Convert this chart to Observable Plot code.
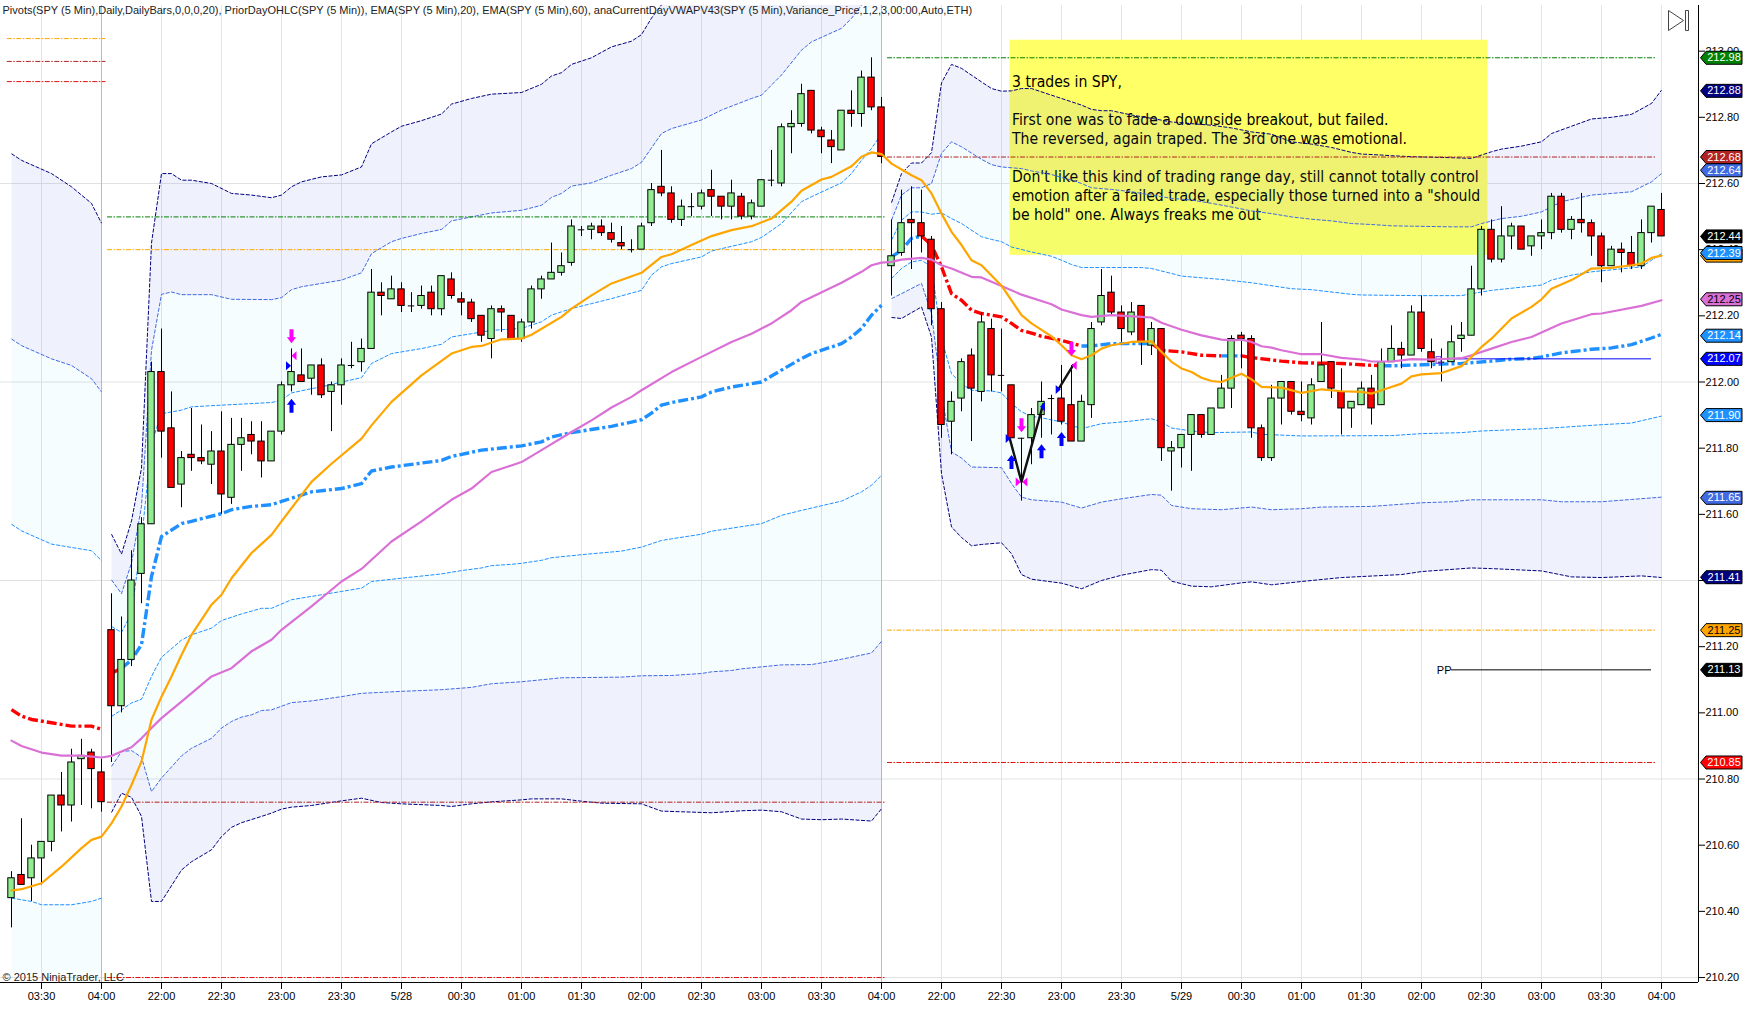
<!DOCTYPE html>
<html><head><meta charset="utf-8">
<script src="https://cdn.jsdelivr.net/npm/d3@7"></script>
<script src="https://cdn.jsdelivr.net/npm/@observablehq/plot@0.6"></script>
<style>html,body{margin:0;padding:0;background:#fff}svg{display:block}</style>
</head><body><div id="chart"></div>
<script>
// ---- candles, bar number 0..165
const opens=[210.44,210.51,210.50,210.56,210.61,210.75,210.72,210.86,210.88,210.82,
211.25,211.02,211.16,211.42,211.57,212.03,211.86,211.69,211.78,211.77,
211.75,211.79,211.65,211.81,211.84,211.82,211.76,211.85,211.99,212.02,
212.01,212.05,211.97,211.99,212.05,212.06,212.10,212.27,212.25,212.28,
212.23,212.23,212.27,212.22,212.31,212.25,212.24,212.20,212.13,212.22,
212.20,212.13,212.18,212.28,212.31,212.33,212.36,212.46,212.46,212.47,
212.45,212.42,212.40,212.40,212.48,212.59,212.57,212.49,212.53,212.53,
212.58,212.56,212.53,212.56,212.50,212.53,212.61,212.60,212.77,212.78,
212.88,212.76,212.73,212.70,212.82,212.81,212.92,212.83,212.35,212.39,
212.49,212.48,212.43,212.22,211.88,211.95,212.08,211.97,212.16,212.02,
211.99,211.83,211.83,211.90,211.95,211.95,211.93,211.82,211.93,212.18,
212.27,212.21,212.15,212.23,212.11,212.16,211.79,211.80,211.84,211.90,
211.84,211.92,211.98,212.14,212.13,211.86,211.77,211.95,212.00,211.91,
211.89,212.00,212.06,211.97,211.92,211.93,211.98,211.93,212.06,212.10,
212.08,212.21,212.09,212.06,212.06,212.13,212.14,212.28,212.46,212.37,
212.44,212.47,212.41,212.44,212.45,212.56,212.46,212.49,212.48,212.44,
212.35,212.40,212.39,212.35,212.45,212.52];
const closes=[210.50,210.48,210.56,210.61,210.75,210.72,210.85,210.87,210.83,210.73,
211.02,211.16,211.40,211.57,212.03,211.85,211.68,211.77,211.77,211.76,
211.79,211.66,211.81,211.83,211.82,211.76,211.85,211.99,212.03,212.00,
212.05,211.96,211.99,212.05,212.05,212.10,212.27,212.26,212.28,212.23,
212.23,212.26,212.22,212.32,212.26,212.24,212.19,212.14,212.22,212.21,
212.13,212.18,212.28,212.31,212.33,212.35,212.47,212.46,212.47,212.45,
212.43,212.41,212.40,212.47,212.58,212.57,212.49,212.53,212.53,212.57,
212.56,212.53,212.57,212.50,212.54,212.61,212.61,212.77,212.78,212.87,
212.76,212.74,212.71,212.82,212.81,212.92,212.83,212.68,212.38,212.48,
212.48,212.44,212.22,211.87,211.94,212.06,211.98,212.18,212.02,212.02,
211.83,211.83,211.90,211.94,211.95,211.88,211.82,211.94,212.16,212.26,
212.21,212.16,212.21,212.12,212.16,211.80,211.80,211.84,211.90,211.84,
211.92,211.98,212.13,212.13,211.86,211.77,211.95,212.00,211.91,211.90,
211.99,212.05,211.98,211.92,211.94,211.98,211.92,212.06,212.10,212.08,
212.21,212.10,212.06,212.06,212.12,212.14,212.28,212.46,212.37,212.44,
212.47,212.40,212.44,212.45,212.56,212.46,212.49,212.48,212.44,212.35,
212.40,212.39,212.35,212.45,212.53,212.44];
const highs=[210.52,210.68,210.60,210.61,210.75,210.82,210.89,210.92,210.89,210.86,
211.36,211.29,211.49,211.59,212.06,212.16,211.97,211.79,211.92,211.87,
211.85,211.91,211.89,211.89,211.88,211.88,211.85,212.00,212.10,212.10,
212.05,212.07,212.00,212.07,212.12,212.13,212.34,212.30,212.32,212.30,
212.27,212.29,212.29,212.32,212.33,212.27,212.25,212.20,212.23,212.23,
212.20,212.19,212.29,212.32,212.42,212.39,212.49,212.47,212.48,212.49,
212.48,212.47,212.43,212.48,212.60,212.70,212.59,212.55,212.57,212.58,
212.64,212.56,212.61,212.57,212.55,212.61,212.70,212.78,212.82,212.90,
212.88,212.77,212.76,212.82,212.88,212.94,212.98,212.86,212.49,212.58,
212.59,212.58,212.44,212.24,211.97,212.07,212.10,212.21,212.19,212.16,
211.99,211.83,211.92,212.00,211.96,212.05,212.05,211.96,212.18,212.34,
212.32,212.23,212.24,212.23,212.18,212.16,211.82,211.84,211.90,211.90,
211.92,212.02,212.14,212.15,212.14,211.87,211.99,212.00,212.00,212.00,
212.01,212.18,212.06,212.04,211.94,212.00,212.02,212.10,212.17,212.12,
212.23,212.26,212.13,212.10,212.17,212.18,212.35,212.47,212.49,212.53,
212.48,212.47,212.44,212.49,212.57,212.57,212.50,212.57,212.49,212.45,
212.41,212.42,212.44,212.49,212.53,212.57];
const lows=[210.35,210.48,210.43,210.48,210.58,210.64,210.67,210.72,210.71,210.70,
210.85,211.00,211.14,211.33,211.57,211.77,211.68,211.62,211.73,211.75,
211.69,211.60,211.63,211.73,211.78,211.71,211.76,211.84,211.97,212.00,
211.96,211.95,211.85,211.93,212.04,212.03,212.10,212.20,212.25,212.21,
212.21,212.22,212.20,212.20,212.25,212.20,212.18,212.12,212.07,212.15,
212.13,212.12,212.16,212.25,212.31,212.32,212.35,212.44,212.43,212.44,
212.42,212.40,212.39,212.40,212.47,212.56,212.48,212.47,212.50,212.52,
212.50,212.49,212.49,212.49,212.49,212.53,212.59,212.59,212.69,212.77,
212.75,212.69,212.66,212.70,212.77,212.77,212.82,212.66,212.26,212.38,
212.34,212.39,212.17,211.83,211.78,211.91,211.82,211.94,211.97,211.97,
211.83,211.64,211.75,211.83,211.84,211.87,211.82,211.82,211.89,212.17,
212.20,212.12,212.14,212.05,212.08,211.76,211.67,211.74,211.73,211.83,
211.84,211.92,211.92,212.04,211.83,211.76,211.76,211.87,211.90,211.88,
211.87,212.00,211.95,211.84,211.86,211.93,211.87,211.93,212.06,212.04,
212.08,212.09,212.04,212.00,212.06,212.09,212.14,212.26,212.36,212.36,
212.40,212.40,212.38,212.40,212.43,212.45,212.43,212.45,212.38,212.30,
212.35,212.33,212.34,212.34,212.42,212.44];

// ---- axis
const tickBars=[3,9,15,21,27,33,39,45,51,57,63,69,75,81,87,93,99,105,111,117,123,129,135,141,147,153,159,165];
const tickLabels=["03:30","04:00","22:00","22:30","23:00","23:30","5/28","00:30","01:00","01:30","02:00","02:30","03:00","03:30","04:00","22:00","22:30","23:00","23:30","5/29","00:30","01:00","01:30","02:00","02:30","03:00","03:30","04:00"];
const sessionEnds=[9,87];
const priceTicks=[210.2,210.4,210.6,210.8,211,211.2,211.4,211.6,211.8,212,212.2,212.4,212.6,212.8,213];
const priceGrid=[210.2,210.8,211.4,212,212.6];

// ---- EMAs, [bar, price]
const ema20=[[0,210.463],[1,210.467],[3,210.485],[5,210.535],[7,210.591],[8,210.616],[9,210.626],[10,210.666],[11,210.717],[12,210.782],[13,210.853],[14,210.979],[15,211.049],[16,211.11],[17,211.175],[18,211.236],[20,211.327],[21,211.357],[22,211.407],[24,211.483],[26,211.538],[27,211.579],[30,211.698],[32,211.753],[35,211.829],[36,211.869],[38,211.94],[41,212.02],[44,212.086],[46,212.106],[47,212.109],[49,212.129],[51,212.131],[52,212.143],[55,212.197],[56,212.222],[58,212.262],[60,212.298],[63,212.33],[65,212.378],[66,212.386],[68,212.414],[70,212.441],[72,212.459],[74,212.471],[76,212.494],[78,212.545],[79,212.578],[81,212.612],[82,212.62],[84,212.652],[85,212.681],[86,212.694],[87,212.689],[88,212.66],[90,212.625],[91,212.61],[92,212.57],[93,212.509],[94,212.454],[95,212.414],[96,212.368],[97,212.353],[99,212.291],[100,212.247],[101,212.202],[102,212.177],[104,212.138],[105,212.111],[106,212.081],[107,212.069],[108,212.081],[109,212.101],[110,212.111],[112,212.121],[114,212.123],[115,212.091],[116,212.061],[117,212.041],[118,212.03],[119,212.013],[120,212.003],[121,212.0],[122,212.013],[123,212.025],[124,212.008],[125,211.985],[127,211.983],[129,211.967],[131,211.978],[133,211.972],[135,211.97],[136,211.965],[137,211.975],[139,211.995],[140,212.017],[141,212.023],[143,212.027],[145,212.048],[146,212.076],[147,212.106],[148,212.131],[150,212.192],[152,212.227],[153,212.25],[154,212.282],[156,212.308],[158,212.343],[160,212.345],[162,212.353],[163,212.358],[164,212.375],[165,212.382]];
const ema60=[[0,210.916],[1,210.90],[3,210.88],[5,210.871],[7,210.871],[9,210.865],[10,210.87],[11,210.883],[12,210.896],[13,210.923],[14,210.954],[15,210.984],[17,211.034],[20,211.11],[22,211.135],[24,211.186],[26,211.221],[27,211.251],[30,211.322],[33,211.397],[35,211.435],[38,211.518],[41,211.579],[44,211.644],[46,211.678],[48,211.728],[51,211.758],[53,211.794],[56,211.849],[58,211.884],[60,211.923],[62,211.955],[63,211.975],[66,212.03],[69,212.076],[72,212.121],[74,212.146],[76,212.177],[78,212.217],[79,212.242],[83,212.30],[85,212.333],[86,212.353],[87,212.361],[88,212.363],[89,212.37],[91,212.375],[92,212.37],[93,212.353],[94,212.343],[96,212.318],[97,212.316],[99,212.29],[101,212.264],[104,212.235],[105,212.219],[107,212.202],[108,212.197],[110,212.202],[113,212.197],[114,212.195],[115,212.179],[117,212.158],[119,212.141],[121,212.128],[122,212.126],[123,212.128],[124,212.121],[125,212.108],[126,212.104],[127,212.096],[129,212.084],[131,212.084],[133,212.073],[135,212.068],[136,212.062],[138,212.062],[140,212.069],[142,212.068],[145,212.072],[146,212.081],[148,212.101],[150,212.121],[152,212.136],[155,212.177],[158,212.205],[159,212.207],[163,212.23],[165,212.247]];

// ---- VWAP pieces, red below / blue above
const vwapRed1=[[0,211.01],[1,210.99],[2,210.98],[4,210.97],[6,210.96],[8,210.96],[9,210.95]];
const vwapRed2=[[10,211.12],[11,211.135]];
const vwapBlue2=[[11,211.135],[12,211.16],[13,211.206],[14,211.412],[15,211.533],[17,211.572],[18,211.579],[21,211.602],[22,211.614],[24,211.624],[26,211.629],[27,211.639],[30,211.668],[33,211.678],[35,211.693],[36,211.731],[38,211.743],[41,211.755],[43,211.763],[44,211.775],[47,211.794],[51,211.807],[53,211.819],[54,211.834],[56,211.847],[60,211.866],[62,211.879],[63,211.886],[64,211.906],[65,211.93],[66,211.938],[69,211.955],[70,211.97],[72,211.985],[74,211.995],[75,212.0],[77,212.036],[79,212.071],[80,212.086],[83,212.116],[84,212.136],[85,212.162],[86,212.202],[87,212.232]];
const vwapBlue3=[[88,212.378],[89,212.398],[90,212.434],[91,212.441]];
const vwapRed3=[[91,212.441],[92,212.414],[93,212.348],[94,212.267],[95,212.247],[96,212.217],[97,212.207],[99,212.197],[100,212.177],[101,212.156],[102,212.148],[103,212.138],[105,212.126],[107,212.109]];
const vwapBlue4=[[107,212.109],[108,212.109],[110,212.116],[114,212.116]];
const vwapRed4=[[114,212.116],[115,212.096],[117,212.091],[119,212.081],[121,212.079]];
const vwapBlue5=[[121,212.079],[123,212.079]];
const vwapRed5=[[123,212.079],[124,212.074],[127,212.063],[129,212.058],[133,212.056],[135,212.052],[137,212.049]];
const vwapBlue6=[[137,212.049],[138,212.049],[141,212.052],[143,212.054],[145,212.056],[148,212.063],[150,212.069],[152,212.071],[153,212.076],[155,212.088],[158,212.099],[160,212.103],[162,212.113],[164,212.133],[165,212.144]];

// ---- variance bands, session 1
const s1Up3=[[0,212.69],[1,212.67],[4,212.63],[6,212.59],[8,212.54],[9,212.48]];
const s1Up2=[[0,212.13],[1,212.11],[4,212.07],[6,212.05],[8,212.01],[9,211.97]];
const s1Up1=[[0,211.57],[1,211.55],[4,211.51],[6,211.50],[8,211.49],[9,211.46]];
const s1Lo1=[[0,210.44],[2,210.43],[3,210.42],[6,210.42],[8,210.43],[9,210.44]];
const s1Lo2=[[0,210.213],[9,210.213]];
// session 2
const s2Up3=[[10,211.54],[11,211.48],[12,211.58],[13,211.74],[14,212.42],[15,212.63],[16,212.63],[17,212.61],[18,212.61],[20,212.60],[22,212.57],[24,212.565],[26,212.557],[27,212.565],[28,212.59],[29,212.605],[31,212.62],[33,212.626],[35,212.65],[36,212.72],[38,212.756],[39,212.773],[41,212.79],[43,212.81],[44,212.84],[46,212.857],[48,212.87],[51,212.875],[53,212.90],[54,212.925],[55,212.935],[56,212.96],[57,212.97],[58,212.98],[60,213.013],[62,213.03],[63,213.05],[64,213.10],[65,213.14],[66,213.2],[87,213.7]];
const s2Up2=[[10,211.402],[11,211.36],[12,211.453],[13,211.624],[14,212.096],[15,212.265],[16,212.272],[17,212.264],[20,212.264],[22,212.25],[26,212.249],[27,212.255],[28,212.279],[29,212.288],[31,212.298],[33,212.308],[35,212.33],[36,212.388],[38,212.424],[39,212.434],[41,212.449],[43,212.461],[44,212.487],[46,212.499],[48,212.511],[51,212.519],[53,212.534],[54,212.558],[55,212.57],[56,212.592],[58,212.602],[60,212.625],[62,212.645],[63,212.664],[65,212.751],[66,212.766],[69,212.792],[71,212.822],[74,212.857],[75,212.867],[77,212.928],[79,213.003],[80,213.028],[83,213.069],[84,213.099],[85,213.139],[86,213.2],[87,213.26]];
const s2Up1=[[10,211.261],[11,211.243],[12,211.301],[13,211.523],[14,211.814],[15,211.904],[17,211.915],[18,211.925],[21,211.93],[26,211.938],[27,211.945],[28,211.967],[30,211.98],[31,211.985],[33,212.0],[35,212.013],[36,212.056],[38,212.086],[39,212.091],[41,212.101],[43,212.114],[44,212.136],[46,212.146],[48,212.156],[51,212.162],[53,212.182],[54,212.202],[55,212.212],[56,212.222],[58,212.237],[60,212.252],[63,212.277],[64,212.323],[65,212.348],[66,212.358],[69,212.378],[70,212.396],[74,212.424],[75,212.437],[77,212.479],[79,212.545],[80,212.56],[83,212.602],[84,212.63],[85,212.67],[86,212.706],[87,212.75]];
const s2Lo1=[[10,210.989],[11,211.009],[12,211.03],[13,211.041],[14,211.11],[15,211.168],[17,211.22],[18,211.236],[20,211.256],[21,211.279],[23,211.299],[25,211.316],[26,211.316],[28,211.342],[30,211.352],[33,211.367],[35,211.377],[36,211.397],[39,211.407],[43,211.42],[45,211.43],[47,211.438],[48,211.445],[50,211.449],[51,211.452],[53,211.461],[54,211.469],[57,211.478],[61,211.489],[63,211.501],[65,211.521],[66,211.526],[69,211.54],[70,211.549],[75,211.572],[77,211.597],[79,211.612],[81,211.626],[83,211.64],[85,211.668],[86,211.688],[87,211.718]];
const s2Lo2=[[10,210.838],[11,210.883],[12,210.886],[13,210.866],[14,210.762],[15,210.803],[17,210.87],[18,210.893],[20,210.923],[21,210.954],[22,210.974],[23,210.987],[24,210.994],[25,211.007],[26,211.009],[28,211.031],[30,211.036],[33,211.049],[35,211.059],[39,211.065],[43,211.07],[46,211.077],[48,211.088],[51,211.094],[55,211.106],[61,211.108],[63,211.112],[66,211.113],[69,211.119],[70,211.124],[72,211.128],[73,211.133],[75,211.139],[77,211.145],[80,211.146],[81,211.151],[83,211.162],[86,211.181],[87,211.216]];
const s2Lo3=[[10,210.699],[11,210.757],[12,210.745],[13,210.687],[14,210.43],[15,210.43],[17,210.525],[18,210.55],[20,210.586],[21,210.626],[22,210.654],[23,210.668],[25,210.687],[26,210.697],[27,210.709],[28,210.715],[30,210.72],[33,210.734],[35,210.742],[37,210.729],[39,210.725],[43,210.72],[44,210.717],[46,210.725],[48,210.731],[51,210.737],[52,210.74],[55,210.74],[57,210.733],[59,210.727],[63,210.725],[65,210.703],[67,210.701],[70,210.698],[73,210.704],[75,210.706],[77,210.701],[79,210.679],[81,210.677],[83,210.679],[86,210.673],[87,210.71]];
// session 3
const s3Up3=[[88,212.542],[89,212.63],[90,212.662],[91,212.662],[92,212.693],[93,212.904],[94,212.96],[95,212.948],[97,212.907],[98,212.887],[99,212.879],[100,212.88],[101,212.887],[102,212.887],[104,212.867],[106,212.847],[107,212.837],[108,212.824],[109,212.82],[110,212.82],[112,212.807],[114,212.797],[116,212.786],[118,212.781],[120,212.776],[122,212.768],[124,212.756],[126,212.749],[128,212.726],[130,212.719],[132,212.709],[134,212.694],[135,212.689],[137,212.686],[138,212.684],[140,212.681],[144,212.678],[146,212.676],[147,212.686],[148,212.696],[149,212.704],[151,212.713],[153,212.726],[154,212.751],[156,212.773],[158,212.795],[160,212.80],[162,212.809],[164,212.842],[165,212.882]];
const s3Up2=[[88,212.489],[89,212.565],[90,212.587],[91,212.587],[92,212.6],[93,212.691],[94,212.726],[95,212.711],[97,212.673],[98,212.657],[99,212.65],[101,212.645],[102,212.638],[104,212.627],[106,212.61],[107,212.6],[108,212.587],[110,212.582],[112,212.575],[114,212.565],[116,212.555],[118,212.55],[120,212.54],[122,212.529],[124,212.517],[126,212.509],[128,212.499],[130,212.492],[132,212.487],[134,212.479],[136,212.476],[138,212.472],[140,212.471],[144,212.469],[146,212.469],[147,212.479],[149,212.494],[151,212.501],[153,212.514],[155,212.545],[158,212.565],[160,212.57],[162,212.575],[164,212.605],[165,212.63]];
const s3Up1=[[88,212.429],[89,212.489],[90,212.514],[91,212.514],[92,212.507],[93,212.511],[94,212.494],[95,212.479],[97,212.439],[98,212.431],[99,212.424],[100,212.408],[102,212.393],[104,212.38],[105,212.368],[106,212.355],[107,212.346],[108,212.346],[113,212.346],[114,212.343],[116,212.328],[117,212.32],[121,212.31],[124,212.30],[128,212.282],[130,212.279],[134,212.265],[135,212.263],[141,212.261],[145,212.261],[146,212.267],[148,212.277],[153,212.293],[154,212.308],[156,212.323],[158,212.333],[163,212.348],[164,212.368],[165,212.388]];
const s3Lo1=[[88,212.313],[89,212.343],[90,212.363],[91,212.368],[92,212.348],[93,212.131],[94,212.025],[95,211.995],[96,211.975],[98,211.973],[99,211.967],[100,211.935],[101,211.91],[102,211.896],[103,211.892],[105,211.879],[107,211.859],[109,211.874],[112,211.882],[114,211.889],[115,211.879],[116,211.861],[118,211.852],[120,211.847],[124,211.849],[125,211.842],[129,211.837],[138,211.838],[141,211.844],[145,211.847],[147,211.852],[153,211.859],[159,211.871],[162,211.876],[165,211.897]];
const s3Lo2=[[88,212.252],[89,212.267],[91,212.298],[92,212.207],[93,211.965],[94,211.789],[95,211.77],[96,211.743],[99,211.741],[100,211.693],[101,211.652],[102,211.644],[105,211.637],[107,211.619],[109,211.637],[111,211.647],[114,211.66],[115,211.658],[116,211.627],[118,211.617],[121,211.614],[124,211.622],[126,211.614],[129,211.617],[131,211.622],[136,211.624],[141,211.635],[144,211.638],[146,211.644],[153,211.644],[155,211.638],[159,211.638],[162,211.645],[165,211.652]];
const s3Lo3=[[88,212.195],[89,212.192],[91,212.227],[92,212.136],[93,211.723],[94,211.562],[95,211.53],[96,211.505],[97,211.509],[99,211.514],[100,211.481],[101,211.418],[102,211.404],[105,211.392],[107,211.375],[109,211.40],[111,211.416],[114,211.433],[115,211.431],[116,211.398],[118,211.383],[120,211.381],[123,211.393],[124,211.396],[126,211.387],[129,211.397],[133,211.409],[135,211.412],[139,211.418],[141,211.427],[146,211.438],[148,211.436],[153,211.429],[156,211.411],[159,211.409],[163,211.414],[165,211.409]];

// ---- pivot levels
const pivotFrom=[-0.42,-0.42,-0.42,9.6,9.6,9.6,9.6,87.6,87.6,87.6,87.6];
const pivotTo=[9.45,9.45,9.45,87.45,87.45,87.45,87.45,164.5,164.5,164.5,164.5];
const pivotLevel=[213.038,212.969,212.908,212.499,212.40,210.73,210.20,212.98,212.68,211.25,210.85];
const pivotColor=["orange","#b22222","#e01010","green","orange","#b22222","#e01010","green","#b22222","orange","#e01010"];

// ---- trade markers
const arrowUpBar=[28,100,103,105];
const arrowUpPrice=[211.928,211.758,211.791,211.828];
const arrowDownBar=[28,101,106];
const arrowDownPrice=[212.138,211.869,212.10];
const triRightBar=[27.7,99.67,104.67];
const triRightPrice=[212.049,211.829,211.977];
const triLeftBar=[28.25,101.33,106.27,103.1];
const triLeftPrice=[212.079,211.698,212.05,211.925];
const triMagLeft=[28.25,101.33,106.27];
const trade1=[[99.83,211.829],[101,211.698],[103.17,211.933]];
const trade2=[[104.67,211.977],[106.17,212.051]];

// ---- right-hand price flags
const flagPrice=[212.98,212.88,212.68,212.64,212.44,212.382,212.39,212.25,212.14,212.07,211.90,211.65,211.41,211.25,211.13,210.85];
const flagFill=["#008000","#000080","#b22222","#4169e1","#000000","#ffa500","#1e90ff","#da70d6","#1e90ff","#0000ff","#1e90ff","#4169e1","#000080","#ffa500","#000000","#ff0000"];
const flagText=["212.98","212.88","212.68","212.64","212.44","","212.39","212.25","212.14","212.07","211.90","211.65","211.41","211.25","211.13","210.85"];
const flagInk=["#fff","#fff","#fff","#fff","#fff","#000","#fff","#000","#fff","#fff","#fff","#fff","#fff","#000","#fff","#fff"];

const headerText="Pivots(SPY (5 Min),Daily,DailyBars,0,0,0,20), PriorDayOHLC(SPY (5 Min)), EMA(SPY (5 Min),20), EMA(SPY (5 Min),60), anaCurrentDayVWAPV43(SPY (5 Min),Variance_Price,1,2,3,00:00,Auto,ETH)";
const noteText="3 trades in SPY,\n\nFirst one was to fade a downside breakout, but failed.\nThe reversed, again traped. The 3rd one was emotional.\n\nDon't like this kind of trading range day, still cannot totally control\nemotion after a failed trade, especially those turned into a \"should\nbe hold\" one. Always freaks me out";
const copyrightText="© 2015 NinjaTrader, LLC";

// ---- helpers
const bars=d3.range(opens.length);
const X=d=>d[0],Y=d=>d[1];
const poly=(a,b)=>a.concat(b.slice().reverse());
const lavender="#4169e1",aqua="#00bfff";
const zip=(a,b)=>a.map((v,i)=>[v,b[i]]);
const sym=pts=>({draw(c){pts.forEach((p,i)=>i?c.lineTo(p[0],p[1]):c.moveTo(p[0],p[1]));c.closePath();}});
const symArrowUp=sym([[0,-7],[4.6,-1],[2,-1],[2,7],[-2,7],[-2,-1],[-4.6,-1]]);
const symArrowDown=sym([[0,7],[4.6,1],[2,1],[2,-7],[-2,-7],[-2,1],[-4.6,1]]);
const symTriRight=sym([[-2.5,-4.5],[2.5,0],[-2.5,4.5]]);
const symTriLeft=sym([[2.5,-4.5],[-2.5,0],[2.5,4.5]]);
const symFlag=sym([[-20.5,0],[-15,-6.5],[21,-6.5],[21,6.5],[-15,6.5]]);
const symSkip={draw(c){c.moveTo(-10,-10);c.lineTo(5,0);c.lineTo(-10,10);c.closePath();c.moveTo(7,-10);c.lineTo(10,-10);c.lineTo(10,10);c.lineTo(7,10);c.closePath();}};
const fillBand=(a,b,color,op)=>Plot.line(poly(a,b),{x:X,y:Y,fill:color,fillOpacity:op,stroke:"none",clip:true});
const visible=a=>a.filter(d=>d[1]<=213.14);
const bandLine=(a,color)=>Plot.line(visible(a),{x:X,y:Y,stroke:color,strokeWidth:1,strokeDasharray:"4 1.5",strokeLinecap:"butt"});
const vwap=(a,color)=>Plot.line(a,{x:X,y:Y,stroke:color,strokeWidth:3.4,strokeDasharray:"10 3 3 3",strokeLinecap:"butt"});
const labelOf=new Map(tickBars.map((b,i)=>[b,tickLabels[i]]));
const OP1=0.085,OP2=0.035;

const plot=Plot.plot({
  width:1752,height:1009,
  marginTop:5,marginBottom:27,marginLeft:0,marginRight:54,
  x:{domain:[-1.1,168.7]},
  y:{domain:[210.185,213.138]},
  color:{type:"identity"},
  style:{fontFamily:"'Liberation Sans',Arial,sans-serif",fontSize:"11px",background:"#fff",overflow:"visible"},
  marks:[
    Plot.ruleX(tickBars,{stroke:"#e2e4e8",strokeWidth:1}),
    Plot.ruleY(priceGrid,{stroke:"#e0e2e2",strokeWidth:1}),
    Plot.ruleX(sessionEnds,{stroke:"#bcbcbc",strokeWidth:1}),
    // note box sits under the bands, which tint it
    Plot.rect([0],{x1:()=>99.85,x2:()=>147.65,y1:()=>213.033,y2:()=>212.383,fill:"#ffff66"}),
    Plot.text([noteText],{x:()=>100.05,y:()=>212.932,text:d=>d,textAnchor:"start",lineAnchor:"top",lineHeight:1.22,fontSize:15.6,fontFamily:"'DejaVu Sans Condensed','DejaVu Sans',sans-serif",fill:"#000",fontStretch:"condensed"}),
    // band fills
    fillBand(s1Up3,s1Up2,lavender,OP1),fillBand(s1Up2,s1Up1,aqua,OP2),fillBand(s1Lo1,s1Lo2,aqua,OP2),
    fillBand(s2Up3,s2Up2,lavender,OP1),fillBand(s2Up2,s2Up1,aqua,OP2),fillBand(s2Lo1,s2Lo2,aqua,OP2),fillBand(s2Lo2,s2Lo3,lavender,OP1),
    fillBand(s3Up3,s3Up2,lavender,OP1),fillBand(s3Up2,s3Up1,aqua,OP2),fillBand(s3Lo1,s3Lo2,aqua,OP2),fillBand(s3Lo2,s3Lo3,lavender,OP1),
    // band lines
    bandLine(s1Up3,"navy"),bandLine(s1Up2,"royalblue"),bandLine(s1Up1,"dodgerblue"),bandLine(s1Lo1,"dodgerblue"),
    bandLine(s2Up3,"navy"),bandLine(s2Up2,"royalblue"),bandLine(s2Up1,"dodgerblue"),bandLine(s2Lo1,"dodgerblue"),bandLine(s2Lo2,"royalblue"),bandLine(s2Lo3,"navy"),
    bandLine(s3Up3,"navy"),bandLine(s3Up2,"royalblue"),bandLine(s3Up1,"dodgerblue"),bandLine(s3Lo1,"dodgerblue"),bandLine(s3Lo2,"royalblue"),bandLine(s3Lo3,"navy"),
    // pivots
    Plot.ruleY(pivotLevel.map((_,i)=>i),{y:i=>pivotLevel[i],x1:i=>pivotFrom[i],x2:i=>pivotTo[i],stroke:i=>pivotColor[i],strokeWidth:1,strokeDasharray:"5 1.5 1.5 1.5"}),
    Plot.ruleY([211.13],{x1:()=>144,x2:()=>164,stroke:"#000",strokeWidth:1}),
    Plot.text(["PP"],{x:()=>144,y:()=>211.13,text:d=>d,textAnchor:"end",fontSize:11,dy:1}),
    // VWAP
    vwap(vwapRed1,"#ff0000"),vwap(vwapRed2,"#ff0000"),vwap(vwapBlue2,"dodgerblue"),vwap(vwapBlue3,"dodgerblue"),vwap(vwapRed3,"#ff0000"),vwap(vwapBlue4,"dodgerblue"),vwap(vwapRed4,"#ff0000"),vwap(vwapBlue5,"dodgerblue"),vwap(vwapRed5,"#ff0000"),vwap(vwapBlue6,"dodgerblue"),
    Plot.ruleY([212.07],{x1:()=>143,x2:()=>164,stroke:"#0000ff",strokeWidth:1}),
    // candles
    Plot.ruleX(bars,{x:i=>i,y1:i=>lows[i],y2:i=>highs[i],stroke:"#000",strokeWidth:1}),
    Plot.rect(bars.filter(i=>opens[i]!==closes[i]),{x1:i=>i-0.32,x2:i=>i+0.32,y1:i=>opens[i],y2:i=>closes[i],fill:i=>closes[i]>opens[i]?"#90ee90":"#ff0000",stroke:"#000",strokeWidth:1}),
    Plot.ruleY(bars.filter(i=>opens[i]===closes[i]),{y:i=>opens[i],x1:i=>i-0.32,x2:i=>i+0.32,stroke:"#000",strokeWidth:1}),
    // entry box
    Plot.rect([0],{x1:()=>142.5,x2:()=>143,y1:()=>212.075,y2:()=>212.055,stroke:"#7a2cf0",fill:"none",strokeWidth:1}),
    // EMAs
    Plot.line(ema60,{x:X,y:Y,stroke:"orchid",strokeWidth:2.2}),
    Plot.line(ema20,{x:X,y:Y,stroke:"orange",strokeWidth:2.2}),
    // trades
    Plot.line(trade1,{x:X,y:Y,stroke:"#111",strokeWidth:2.4}),
    Plot.line(trade2,{x:X,y:Y,stroke:"#111",strokeWidth:2.4}),
    Plot.dot(zip(arrowUpBar,arrowUpPrice),{x:X,y:Y,symbol:symArrowUp,fill:"#0000ff",stroke:"none",r:5}),
    Plot.dot(zip(arrowDownBar,arrowDownPrice),{x:X,y:Y,symbol:symArrowDown,fill:"#ff00ff",stroke:"none",r:5}),
    Plot.dot(zip(triRightBar,triRightPrice),{x:X,y:Y,symbol:symTriRight,fill:"#0000ff",stroke:"none",r:5}),
    Plot.dot(zip(triLeftBar,triLeftPrice),{x:X,y:Y,symbol:symTriLeft,fill:d=>triMagLeft.includes(d[0])?"#ff00ff":"#0000ff",stroke:"none",r:5}),
    Plot.dot([[100.67,211.698]],{x:X,y:Y,symbol:symTriRight,fill:"#ff00ff",stroke:"none",r:5}),
    // axes
    Plot.ruleY([210.185],{stroke:"#000",strokeWidth:1}),
    Plot.ruleX([168.7],{stroke:"#000",strokeWidth:1}),
    Plot.axisX(tickBars,{anchor:"bottom",tickSize:7,tickPadding:3,fontSize:11,tickFormat:d=>labelOf.get(d),fill:"#000",stroke:"#000"}),
    Plot.axisY(priceTicks,{anchor:"right",tickSize:6,tickPadding:1,fontSize:11,tickFormat:d=>d.toFixed(2),textAnchor:"start",fill:"#000",stroke:"#000",label:null}),
    // flags
    Plot.dot(bars.slice(0,flagPrice.length),{x:()=>170.95,y:i=>flagPrice[i],symbol:symFlag,fill:i=>flagFill[i],stroke:"#000",strokeWidth:1,r:5}),
    Plot.text(bars.slice(0,flagPrice.length),{x:()=>170.95,y:i=>flagPrice[i],text:i=>flagText[i],fill:i=>flagInk[i],fontSize:11,dx:3}),
    // header bits
    Plot.text([headerText],{frameAnchor:"top-left",text:d=>d,dx:2,dy:1,fontSize:11,textAnchor:"start",fill:"#222",lineAnchor:"top"}),
    Plot.text([copyrightText],{frameAnchor:"bottom-left",text:d=>d,dx:2,dy:-2,fontSize:11,textAnchor:"start",fill:"#222",lineAnchor:"bottom"}),
    Plot.dot([0],{frameAnchor:"top-right",dx:-20,dy:15,symbol:symSkip,fill:"#fff",stroke:"#444",strokeWidth:1,r:5})
  ]
});
document.getElementById("chart").appendChild(plot);
</script></body></html>
